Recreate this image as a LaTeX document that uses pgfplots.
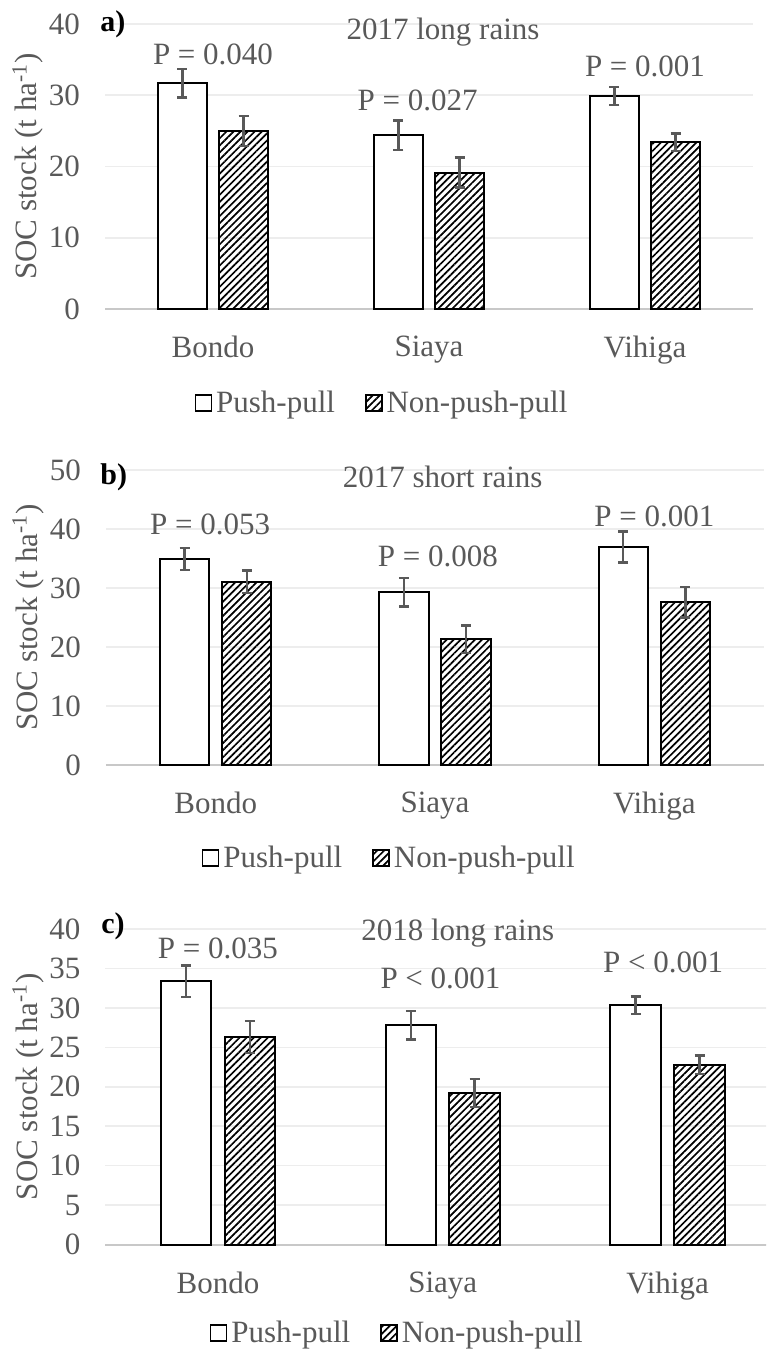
\documentclass[border=0pt]{standalone}
\usepackage{fontspec}
\setmainfont{Liberation Serif}
\usepackage{pgfplots}
\usepackage{pgfplotstable}
\pgfplotsset{compat=1.18}
\usetikzlibrary{patterns.meta}
\definecolor{txt}{HTML}{595959}
\definecolor{gridc}{HTML}{EDEDED}
\definecolor{basec}{HTML}{C8C8C8}

\pgfplotstableread{
x y e
0 31.7 2.0
1 24.4 2.05
2 29.9 1.25
}\appa
\pgfplotstableread{
x y e
0 25.0 2.1
1 19.15 2.1
2 23.4 1.25
}\anpp
\pgfplotstableread{
x y e
0 34.9 1.85
1 29.3 2.4
2 36.95 2.6
}\bpp
\pgfplotstableread{
x y e
0 31.1 1.9
1 21.3 2.35
2 27.6 2.6
}\bnpp
\pgfplotstableread{
x y e
0 33.4 2.0
1 27.8 1.8
2 30.35 1.1
}\cpp
\pgfplotstableread{
x y e
0 26.3 2.05
1 19.2 1.8
2 22.8 1.15
}\cnpp

\newcommand{\fs}{\fontsize{15.5}{18}\selectfont}
\newcommand{\fb}{\bfseries\fontsize{15}{18}\selectfont}

\pgfplotsset{
  panel/.style={
    scale only axis,
    ybar, bar width=0.225,
    xmin=-0.5, xmax=2.5, ymin=0,
    xtick={0,1,2}, xticklabels={Bondo,Siaya,Vihiga},
    axis x line*=bottom, axis y line*=left,
    x axis line style={basec, line width=1pt, -},
    y axis line style={draw=none},
    major tick length=0pt,
    ymajorgrids, grid style={gridc, line width=0.8pt},
    tick label style={font=\fs, text=txt},
    /pgf/number format/assume math mode=true,
    xticklabel style={yshift=-10pt},
    yticklabel style={xshift=-9pt},
    label style={font=\fs, text=txt},
    ylabel={SOC stock (t ha\textsuperscript{-1})},
    legend columns=2,
    legend style={draw=none, fill=none, font=\fs, text=txt, anchor=center,
      /tikz/every even column/.append style={column sep=13pt}},
    legend image code/.code={\draw[#1, line width=0.8pt] (0pt,-4pt) rectangle (8pt,4pt);},
    clip=false,
  },
  pp/.style={draw=black, fill=white, line width=1pt, bar shift=-0.142,
    error bars/.cd, y dir=both, y explicit,
    error bar style={txt, line width=1.2pt},
    error mark options={rotate=90, txt, mark size=2.5pt, line width=1.2pt}},
  npp/.style={draw=black, pattern={Lines[angle=45, distance=2.5pt, line width=0.85pt]}, line width=1pt, bar shift=0.142,
    error bars/.cd, y dir=both, y explicit,
    error bar style={txt, line width=1.2pt},
    error mark options={rotate=90, txt, mark size=2.5pt, line width=1.2pt}},
}

\begin{document}
\begin{tikzpicture}
\path[use as bounding box] (0,0) rectangle (383pt,-677.5pt);
\clip (0,0) rectangle (383pt,-677.5pt);

% Panel a
\begin{axis}[panel, at={(52.5pt,-154.5pt)}, anchor=south west,
  width=324pt, height=142.5pt, ymax=40, ytick={0,10,...,40},
  ylabel style={at={(axis description cs:-0.119,0.5)}, anchor=center},
  legend style={at={(0.429,-0.33)}}]
\addplot[pp] table[x=x, y=y, y error=e] {\appa};
\addplot[npp] table[x=x, y=y, y error=e] {\anpp};
\legend{Push-pull, Non-push-pull}
\node[font=\fs, text=txt] at (axis cs:0,35.8) {P = 0.040};
\node[font=\fs, text=txt] at (axis cs:0.947,29.3) {P = 0.027};
\node[font=\fs, text=txt] at (axis cs:2.0,34.0) {P = 0.001};
\node[font=\fs, text=txt] at (axis cs:1.065,38.8) {2017 long rains};
\node[font=\fb, anchor=west, inner sep=0pt] at (axis cs:-0.523,40.0) {a)};
\end{axis}

% Panel b
\begin{axis}[panel, at={(53pt,-382.5pt)}, anchor=south west,
  width=329pt, height=147.5pt, ymax=50, ytick={0,10,...,50},
  ylabel style={at={(axis description cs:-0.1185,0.5)}, anchor=center},
  legend style={at={(0.432,-0.315)}}]
\addplot[pp] table[x=x, y=y, y error=e] {\bpp};
\addplot[npp] table[x=x, y=y, y error=e] {\bnpp};
\legend{Push-pull, Non-push-pull}
\node[font=\fs, text=txt] at (axis cs:-0.025,40.7) {P = 0.053};
\node[font=\fs, text=txt] at (axis cs:1.013,35.3) {P = 0.008};
\node[font=\fs, text=txt] at (axis cs:2.0,42.1) {P = 0.001};
\node[font=\fs, text=txt] at (axis cs:1.035,48.8) {2017 short rains};
\node[font=\fb, anchor=west, inner sep=0pt] at (axis cs:-0.527,48.8) {b)};
\end{axis}

% Panel c
\begin{axis}[panel, at={(52.75pt,-622.25pt)}, anchor=south west,
  width=337.25pt, height=157.75pt, ymax=40, ytick={0,5,...,40},
  ylabel style={at={(axis description cs:-0.115,0.5)}, anchor=center},
  legend style={at={(0.434,-0.28)}}]
\addplot[pp] table[x=x, y=y, y error=e] {\cpp};
\addplot[npp] table[x=x, y=y, y error=e] {\cnpp};
\legend{Push-pull, Non-push-pull}
\node[font=\fs, text=txt] at (axis cs:0,37.5) {P = 0.035};
\node[font=\fs, text=txt] at (axis cs:0.99,33.7) {P < 0.001};
\node[font=\fs, text=txt] at (axis cs:1.98,35.8) {P < 0.001};
\node[font=\fs, text=txt] at (axis cs:1.067,39.5) {2018 long rains};
\node[font=\fb, anchor=west, inner sep=0pt] at (axis cs:-0.52,40.3) {c)};
\end{axis}
\end{tikzpicture}
\end{document}
